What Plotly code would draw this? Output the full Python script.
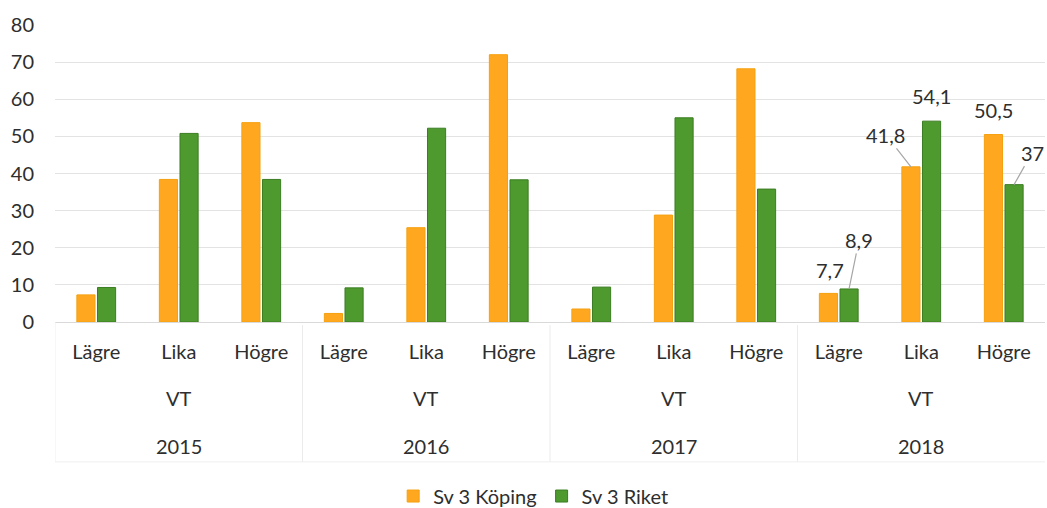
import plotly.graph_objects as go

years = ["2015", "2016", "2017", "2018"]
term = "VT"
levels = ["Lägre", "Lika", "Högre"]
koping = [7.3, 38.4, 53.7, 2.3, 25.4, 72.0, 3.5, 28.8, 68.2, 7.7, 41.8, 50.5]
riket = [9.3, 50.8, 38.4, 9.2, 52.2, 38.3, 9.4, 55.0, 35.8, 8.9, 54.1, 37.0]
series_names = ["Sv 3 Köping", "Sv 3 Riket"]
y_ticks = [0, 10, 20, 30, 40, 50, 60, 70, 80]

ORANGE = "#FFA81F"
GREEN = "#4E9A2F"
TXT = "#2E2E2E"
FONT = "Lato"

n = len(koping)
xs = list(range(n))
tick_text = [levels[i % 3] for i in xs]

fig = go.Figure()
fig.add_trace(go.Bar(x=xs, y=koping, name=series_names[0],
                     marker=dict(color=ORANGE, line=dict(color="#F5A010", width=1))))
fig.add_trace(go.Bar(x=xs, y=riket, name=series_names[1],
                     marker=dict(color=GREEN, line=dict(color="#3B7D22", width=1))))

off = 0.125  # half slot offset of grouped bars (in category units)

# Year / VT group labels
for g, yr in enumerate(years):
    cx = g * 3 + 1
    fig.add_annotation(x=cx, y=-0.256, xref="x", yref="paper", text=term,
                       showarrow=False, yanchor="middle",
                       font=dict(size=20, color=TXT, family=FONT))
    fig.add_annotation(x=cx, y=-0.4175, xref="x", yref="paper", text=yr,
                       showarrow=False, yanchor="middle",
                       font=dict(size=20, color=TXT, family=FONT))

# Divider lines in category area
for b in [2.5, 5.5, 8.5]:
    fig.add_shape(type="line", x0=b, x1=b, y0=-0.01, y1=-0.471, xref="x", yref="paper",
                  line=dict(color="#EBEBEB", width=1))
fig.add_shape(type="line", x0=-0.5, x1=-0.5, y0=0, y1=-0.471, xref="x", yref="paper",
              line=dict(color="#EFEFEF", width=1))
fig.add_shape(type="line", x0=-0.5, x1=11.5, y0=-0.471, y1=-0.471, xref="x", yref="paper",
              line=dict(color="#EFEFEF", width=1))

# Data labels for 2018
lab_font = dict(size=20, color=TXT, family=FONT)
def fmt(v):
    return ("%g" % v).replace(".", ",")

i0 = 9
fig.add_annotation(x=i0 - off, y=koping[i0], text=fmt(koping[i0]), showarrow=False,
                   yanchor="middle", yshift=23, xshift=2, font=lab_font)
fig.add_annotation(x=i0 + off, y=riket[i0], text=fmt(riket[i0]), showarrow=True,
                   arrowhead=0, arrowwidth=1.2, arrowcolor="#A6A6A6", ax=10, ay=-49,
                   font=lab_font)
fig.add_annotation(x=i0 + 1 - off, y=koping[i0 + 1], text=fmt(koping[i0 + 1]), showarrow=True,
                   arrowhead=0, arrowwidth=1.2, arrowcolor="#A6A6A6", ax=-25, ay=-32,
                   font=lab_font)
fig.add_annotation(x=i0 + 1 + off, y=riket[i0 + 1], text=fmt(riket[i0 + 1]), showarrow=False,
                   yanchor="middle", yshift=25, font=lab_font)
fig.add_annotation(x=i0 + 2 - off, y=koping[i0 + 2], text=fmt(koping[i0 + 2]), showarrow=False,
                   yanchor="middle", yshift=25, font=lab_font)
fig.add_annotation(x=i0 + 2 + off, y=riket[i0 + 2], text=fmt(riket[i0 + 2]), showarrow=True,
                   arrowhead=0, arrowwidth=1.2, arrowcolor="#A6A6A6", ax=18, ay=-32,
                   font=lab_font)

fig.update_layout(
    template="none",
    width=1047, height=508,
    margin=dict(l=55, r=2, t=25, b=186, autoexpand=False),
    paper_bgcolor="white", plot_bgcolor="white",
    barmode="group", bargap=0.5, bargroupgap=0.12,
    font=dict(family=FONT, size=20, color=TXT),
    showlegend=True,
    legend=dict(orientation="h", x=0.483, xanchor="center", y=-0.586, yanchor="middle",
                font=dict(size=20, color=TXT, family=FONT), itemwidth=30,
                traceorder="normal", bgcolor="rgba(0,0,0,0)"),
    xaxis=dict(range=[-0.5, 11.5], tickmode="array", tickvals=xs, ticktext=tick_text,
               automargin=False,
               ticks="outside", ticklen=12, tickcolor="rgba(0,0,0,0)",
               showgrid=False, showline=True, linecolor="#D9D9D9", linewidth=1,
               zeroline=False, tickfont=dict(size=20, color=TXT, family=FONT)),
    yaxis=dict(range=[0, 80], tickmode="array", tickvals=y_ticks,
               automargin=False,
               showgrid=True, gridcolor="#E3E3E3", gridwidth=1,
               zeroline=False, showline=False,
               ticks="outside", ticklen=16, tickcolor="rgba(0,0,0,0)",
               tickfont=dict(size=20, color=TXT, family=FONT)),
)

fig.write_html("out.html", config={"displayModeBar": False},
               post_script="document.body.style.margin='0';document.body.style.overflow='hidden';")
